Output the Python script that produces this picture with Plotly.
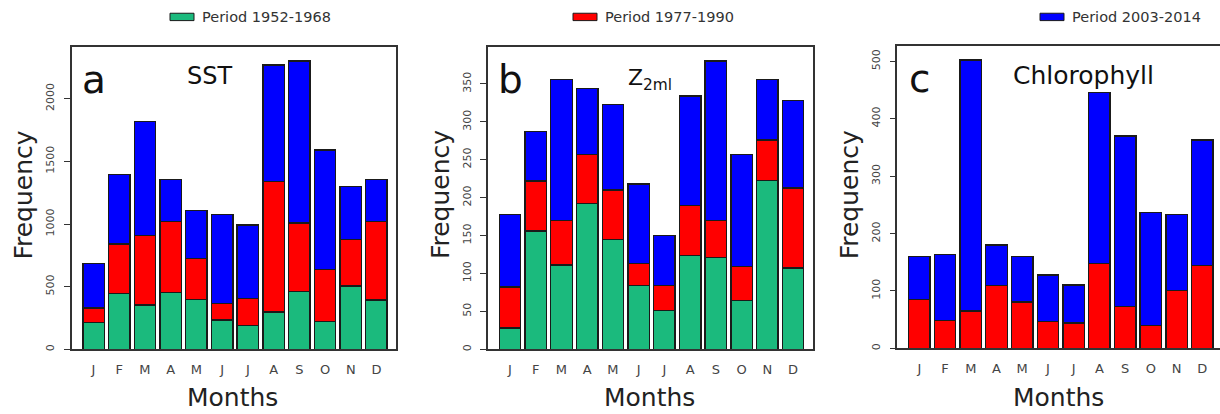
import plotly.graph_objects as go

# ---------------- data ----------------
months = ["J", "F", "M", "A", "M", "J", "J", "A", "S", "O", "N", "D"]
periods = ["Period 1952-1968", "Period 1977-1990", "Period 2003-2014"]

sst_1952 = [212, 444, 354, 452, 397, 233, 190, 299, 463, 220, 505, 392]
sst_1977 = [119, 397, 553, 566, 328, 132, 217, 1040, 545, 415, 371, 626]
sst_2003 = [354, 556, 913, 339, 381, 709, 585, 931, 1292, 955, 426, 339]

z2ml_1952 = [28, 156, 111, 192, 145, 84, 51, 124, 121, 64, 223, 107]
z2ml_1977 = [54, 66, 59, 65, 65, 29, 33, 66, 49, 45, 53, 106]
z2ml_2003 = [96, 65, 186, 87, 113, 105, 66, 144, 210, 148, 80, 115]

chl_1977 = [85, 48, 65, 109, 81, 47, 44, 148, 73, 40, 101, 144]
chl_2003 = [75, 115, 437, 71, 79, 81, 66, 298, 297, 197, 132, 219]

panel_letters = ["a", "b", "c"]
panel_titles = ["SST", "Z<sub>2ml</sub>", "Chlorophyll"]
y_dticks = [500, 50, 100]

# ---------------- style ----------------
W, H = 1220, 414
colors = ["#1BBA7D", "#FF0000", "#0000FF"]
edge = "#1a1a1a"
FONT = "DejaVu Sans, Liberation Sans, Arial, sans-serif"

def fx(p):
    return p / W

def fy(p):
    return 1 - p / H

panels = [
    dict(series=[sst_1952, sst_1977, sst_2003], left=71.5, right=396, top=47, bottom=351),
    dict(series=[z2ml_1952, z2ml_1977, z2ml_2003], left=488, right=813, top=47, bottom=351),
    dict(series=[None, chl_1977, chl_2003], left=897.3, right=1220, top=46, bottom=350),
]
PX_PER_CAT = 25.72
LEFT_PAD = 0.857

fig = go.Figure()
xs = list(range(len(months)))
layout = dict(
    width=W, height=H, margin=dict(l=0, r=0, t=0, b=0),
    paper_bgcolor="white", plot_bgcolor="white",
    barmode="stack", bargap=1 - 1 / 1.2, showlegend=False,
    font=dict(family=FONT, color="#222"),
)
annotations = []
shapes = []

for i, p in enumerate(panels):
    sfx = "" if i == 0 else str(i + 1)
    totals = [0] * len(months)
    for k, vals in enumerate(p["series"]):
        if vals is None:
            continue
        totals = [t + v for t, v in zip(totals, vals)]
        fig.add_trace(go.Bar(
            x=xs, y=vals, name=periods[k], xaxis="x" + sfx, yaxis="y" + sfx,
            marker=dict(color=colors[k], line=dict(color=edge, width=1.4)),
        ))
    width_cat = (p["right"] - p["left"]) / PX_PER_CAT
    x0 = -LEFT_PAD
    layout["xaxis" + sfx] = dict(
        domain=[fx(p["left"]), fx(p["right"])], anchor="y" + sfx,
        range=[x0, x0 + width_cat], tickvals=xs, ticktext=months,
        ticks="", showgrid=False, zeroline=False,
        showline=True, mirror=True, linecolor="#333", linewidth=1.5,
        tickfont=dict(size=13, color="#444"), ticklabelstandoff=7,
    )
    layout["yaxis" + sfx] = dict(
        domain=[fy(p["bottom"]), fy(p["top"])], anchor="x" + sfx,
        range=[0, max(totals) * 1.05], dtick=y_dticks[i],
        ticks="outside", ticklen=6, tickcolor="#333", tickwidth=1,
        tickangle=-90, tickfont=dict(size=11, color="#444"),
        showgrid=False, zeroline=False,
        showline=True, mirror=(i < 2), linecolor="#333", linewidth=1.5,
        ticklabelstandoff=5,
    )
    # panel letter
    annotations.append(dict(
        text=panel_letters[i], xref="paper", yref="paper",
        x=fx(p["left"] + 22), y=fy(p["top"] + 33), xanchor="center", yanchor="middle",
        showarrow=False, font=dict(size=39, color="#111"),
    ))
    # Frequency / Months
    annotations.append(dict(
        text="Frequency", xref="paper", yref="paper", textangle=-90,
        x=fx(p["left"] - 48), y=fy(196), xanchor="center", yanchor="middle",
        showarrow=False, font=dict(size=25, color="#222"),
    ))
    annotations.append(dict(
        text="Months", xref="paper", yref="paper",
        x=fx(p["left"] + 161), y=fy(399), xanchor="center", yanchor="middle",
        showarrow=False, font=dict(size=25, color="#222"),
    ))

# variable titles
title_pos = [(209, 76, 24), (650, 80, 22), (1083, 76, 25)]
for t, (tx, ty, ts) in zip(panel_titles, title_pos):
    annotations.append(dict(
        text=t, xref="paper", yref="paper", x=fx(tx), y=fy(ty),
        xanchor="center", yanchor="middle", showarrow=False,
        font=dict(size=ts, color="#111"),
    ))

# legends (one per period, above each panel)
leg_x = [170, 573, 1040]
for k, lx in enumerate(leg_x):
    shapes.append(dict(
        type="rect", xref="paper", yref="paper",
        x0=fx(lx), x1=fx(lx + 24), y0=fy(20.7), y1=fy(13.3),
        fillcolor=colors[k], line=dict(color=edge, width=1),
    ))
    annotations.append(dict(
        text=periods[k], xref="paper", yref="paper",
        x=fx(lx + 30), y=fy(17), xanchor="left", yanchor="middle",
        showarrow=False, font=dict(size=14.5, color="#333"),
    ))

layout["annotations"] = annotations
layout["shapes"] = shapes
fig.update_layout(**layout)
fig.write_html("out.html")
